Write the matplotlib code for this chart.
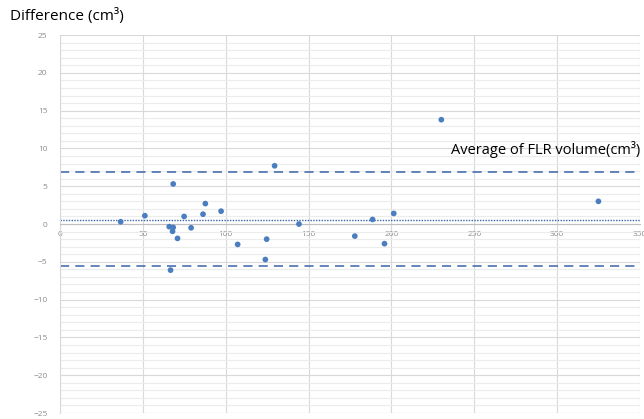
import numpy as np
import matplotlib
matplotlib.use('Agg')
import matplotlib.pyplot as plt
from matplotlib.ticker import MultipleLocator

# Bland-Altman style data: average (x) vs difference (y)
avg_vol = [36.6, 51.2, 65.9, 68.3, 67.9, 68.3, 70.9, 74.9, 79.1, 86.3, 87.7,
           97.2, 107.2, 123.9, 124.7, 129.5, 144.2, 66.7, 177.9, 188.6, 195.8,
           201.4, 230.1, 324.9]
diff_vol = [0.3, 1.1, -0.35, -0.45, -0.97, 5.3, -1.9, 1.0, -0.5, 1.3, 2.7,
            1.7, -2.7, -4.7, -2.0, 7.7, 0.0, -6.1, -1.6, 0.6, -2.6,
            1.4, 13.8, 3.0]
mean_diff = 0.57
upper_loa = 6.85
lower_loa = -5.56

blue = '#4a7ebf'
line_blue = '#3a64a8'

plt.rcParams['font.family'] = ['Open Sans', 'DejaVu Sans']

fig = plt.figure(figsize=(6.44, 4.19), dpi=100)
ax = fig.add_axes([0.0932, 0.0143, 0.9006, 0.9021])

ax.set_xlim(0, 350)
ax.set_ylim(-25, 25)

ax.xaxis.set_major_locator(MultipleLocator(50))
ax.yaxis.set_major_locator(MultipleLocator(5))
ax.yaxis.set_minor_locator(MultipleLocator(1))
ax.grid(which='major', color='#d9d9d9', linewidth=0.8)
ax.grid(which='minor', axis='y', color='#ececec', linewidth=0.8)
ax.set_axisbelow(True)

for side in ['top', 'right']:
    ax.spines[side].set_visible(False)
ax.spines['left'].set_color('#d9d9d9')
ax.spines['bottom'].set_position(('data', 0))
ax.spines['bottom'].set_color('#bfbfbf')
ax.axhline(-25, color='#d9d9d9', linewidth=0.8)

ax.tick_params(which='both', length=0)
ax.tick_params(axis='x', labelsize=6, labelcolor='#8c8c8c', pad=5)
ax.tick_params(axis='y', labelsize=6, labelcolor='#8c8c8c', pad=9)

ax.axhline(upper_loa, color=line_blue, linestyle=(0, (6, 4)), linewidth=1.1)
ax.axhline(lower_loa, color=line_blue, linestyle=(0, (6, 4)), linewidth=1.1)
ax.axhline(mean_diff, color=line_blue, linestyle=(0, (1, 1)), linewidth=1.0)

ax.scatter(avg_vol, diff_vol, s=17, color=blue, zorder=3, edgecolors='none')

fig.text(0.016, 0.962, 'Difference (cm³)', fontsize=11, va='center', ha='left')
ax.text(350, 9.8, 'Average of FLR volume(cm³)', fontsize=10.5, va='center', ha='right')

fig.savefig('out.png', dpi=100)
